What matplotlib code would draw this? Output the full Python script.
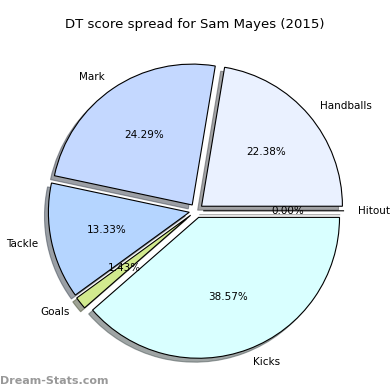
import matplotlib
matplotlib.use('Agg')
import matplotlib.pyplot as plt

labels = ['Handballs', 'Mark', 'Tackle', 'Goals', 'Kicks', 'Hitout']
scores = [94, 102, 56, 6, 162, 0]
colors = ['#eaf1ff', '#c4d8ff', '#b5d5ff', '#d2ea8e', '#d9ffff', '#ffffff']
explode = [0.05] * len(labels)

fig = plt.figure(figsize=(3.9, 3.9), dpi=100)
ax = fig.add_axes([0.003, 0.008, 1.0, 0.903])
ax.pie(scores, labels=labels, colors=colors, explode=explode,
       autopct='%1.2f%%', shadow=True, startangle=0,
       wedgeprops={'edgecolor': 'black', 'linewidth': 0.8},
       textprops={'fontsize': 7.5})
ax.set_aspect('equal')
fig.suptitle('DT score spread for Sam Mayes (2015)', fontsize=9.5, y=0.955)
fig.text(0.0, 0.015, 'Dream-Stats.com', fontsize=8, color='#999999',
         fontweight='bold')

fig.savefig('out.png')
